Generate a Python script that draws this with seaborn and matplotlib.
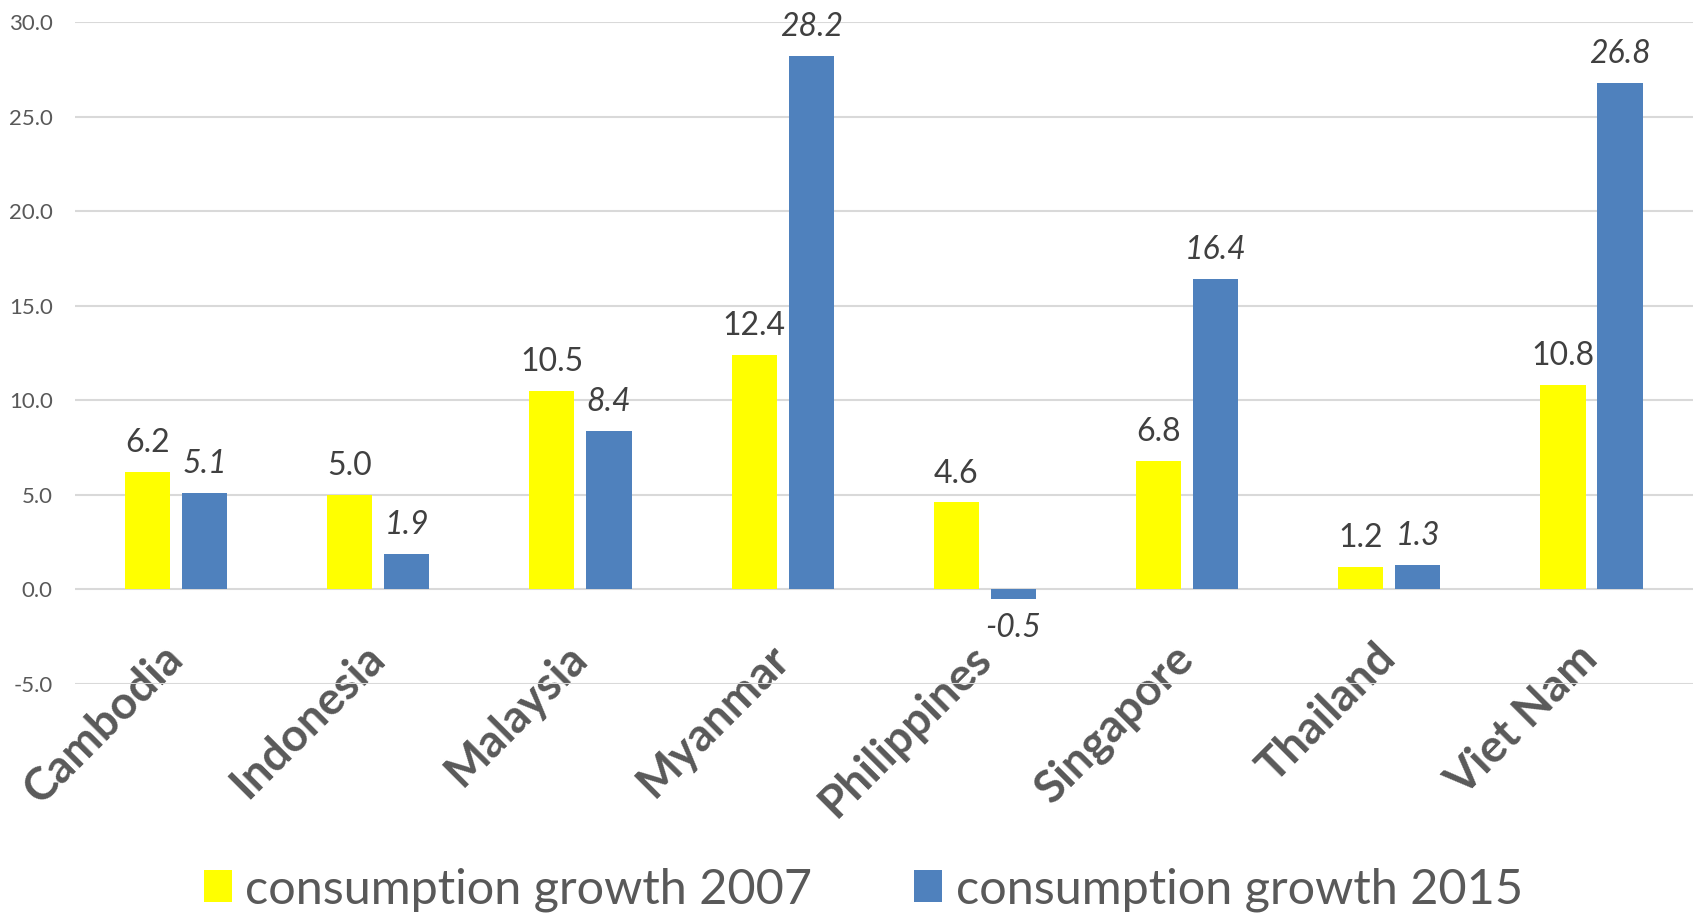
import matplotlib
matplotlib.use("Agg")
import matplotlib.pyplot as plt
import matplotlib.transforms as mtransforms
import seaborn as sns
import pandas as pd

countries = ["Cambodia", "Indonesia", "Malaysia", "Myanmar", "Philippines",
             "Singapore", "Thailand", "Viet Nam"]
growth_2007 = [6.2, 5.0, 10.5, 12.4, 4.6, 6.8, 1.2, 10.8]
growth_2015 = [5.1, 1.9, 8.4, 28.2, -0.5, 16.4, 1.3, 26.8]
series_names = ["consumption growth 2007", "consumption growth 2015"]
y_ticks = [-5, 0, 5, 10, 15, 20, 25, 30]

df = pd.DataFrame({
    "country": countries * 2,
    "growth": growth_2007 + growth_2015,
    "series": [series_names[0]] * len(countries) + [series_names[1]] * len(countries),
})

sns.set_theme(style="white")
plt.rcParams["font.family"] = ["Lato", "DejaVu Sans"]

fig = plt.figure(figsize=(16.96, 9.13), dpi=100)
ax = fig.add_axes([0.0442, 0.2508, 0.9538, 0.7251])

palette = {series_names[0]: "#FFFF00", series_names[1]: "#4F81BD"}
sns.barplot(data=df, x="country", y="growth", hue="series", palette=palette,
            width=0.564, gap=0.21, saturation=1, ax=ax, errorbar=None,
            linewidth=0, legend=True)

ax.set_ylim(-5, 30)
ax.set_xlim(-0.5, len(countries) - 0.5)
ax.set_yticks(y_ticks)
ax.set_yticklabels([f"{v:.1f}" for v in y_ticks], fontsize=16, color="#595959")
ax.yaxis.grid(True, color="#D9D9D9", linewidth=1.5)
ax.set_axisbelow(True)
for s in ax.spines.values():
    s.set_visible(False)
ax.tick_params(axis="y", length=0, pad=16)
ax.tick_params(axis="x", length=0, pad=-34)
ax.set_xlabel("")
ax.set_ylabel("")

# rotated country names, nudged slightly left of their category centres
shift = mtransforms.ScaledTranslation(-0.15, 0, fig.dpi_scale_trans)
for lbl in ax.get_xticklabels():
    lbl.set_rotation(45)
    lbl.set_ha("right")
    lbl.set_rotation_mode("anchor")
    lbl.set_fontsize(33)
    lbl.set_fontweight("bold")
    lbl.set_color("#595959")
    lbl.set_transform(lbl.get_transform() + shift)

for cont, style in zip(ax.containers, ["normal", "italic"]):
    ax.bar_label(cont, fmt="%.1f", padding=10, fontsize=23,
                 color="#404040", fontstyle=style)

handles, labels = ax.get_legend_handles_labels()
ax.get_legend().remove()
fig.legend(handles, labels, loc="center", bbox_to_anchor=(0.509, 0.026),
           ncol=2, frameon=False, fontsize=35, labelcolor="#595959",
           handlelength=0.58, handleheight=0.66, handletextpad=0.27,
           columnspacing=2.1)

fig.savefig("out.png", dpi=100)
